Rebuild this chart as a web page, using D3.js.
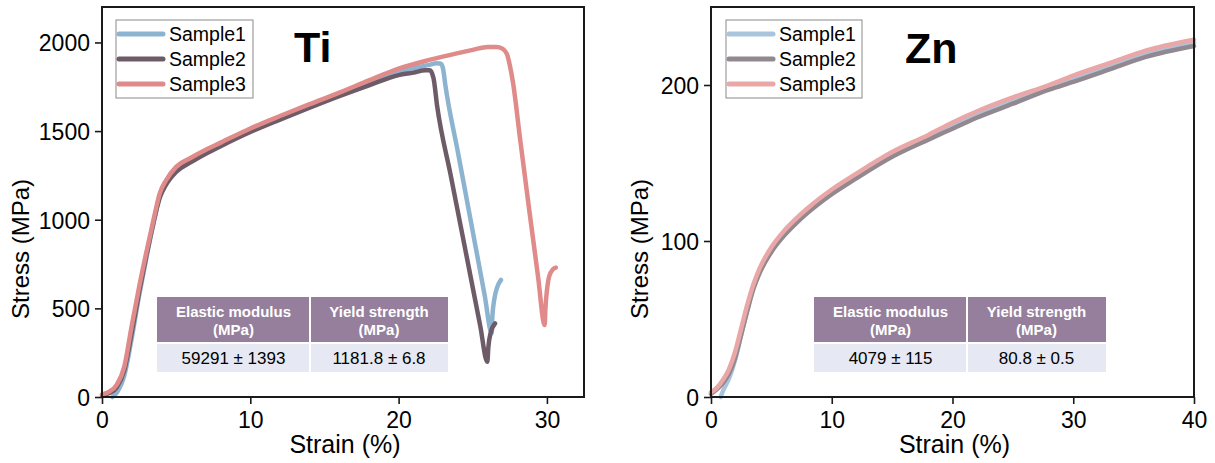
<!DOCTYPE html>
<html>
<head>
<meta charset="utf-8">
<script src="https://cdn.jsdelivr.net/npm/d3@7"></script>
<style>
  html, body { margin: 0; padding: 0; background: #fff; }
  svg { display: block; font-family: "Liberation Sans", Arial, sans-serif; }
</style>
</head>
<body>
<svg id="chart" width="1215" height="463"></svg>
<script>
// ---------------- DATA ----------------
const seriesNames = ["Sample1", "Sample2", "Sample3"];

// Ti stress-strain: [strain %, stress MPa]
const tiSample1 = [[0.7,0],[1,25],[1.5,120],[2,330],[2.5,570],[3,790],[3.5,990],[3.9,1140],[4.3,1210],[5,1285],[6,1340],[7,1385],[8,1428],[10,1508],[12,1578],[14,1645],[16,1708],[18,1773],[20,1835],[21,1855],[22,1872],[22.6,1882],[22.85,1880],[23.0,1850],[23.15,1760],[24,1380],[25,933],[25.8,575],[26.28,359],[26.32,450],[26.45,550],[26.65,620],[26.9,660]];
const tiSample2 = [[0,10],[0.5,22],[1,55],[1.5,150],[2,360],[2.5,590],[3,800],[3.5,995],[3.9,1125],[4.3,1195],[5,1270],[6,1325],[7,1372],[8,1415],[10,1495],[12,1565],[14,1632],[16,1697],[18,1758],[20,1816],[21,1830],[21.8,1843],[22.1,1843],[22.35,1800],[22.6,1640],[23.5,1256],[24.5,830],[25.5,403],[25.98,199],[26.05,280],[26.2,360],[26.5,415]];
const tiSample3 = [[0,15],[0.5,30],[1,70],[1.5,170],[2,400],[2.5,620],[3,820],[3.5,1010],[3.9,1150],[4.3,1220],[5,1298],[6,1350],[7,1395],[8,1435],[10,1515],[12,1585],[14,1652],[16,1717],[18,1786],[20,1852],[22,1900],[24,1940],[25,1958],[26,1975],[26.6,1975],[27.0,1965],[27.3,1935],[27.5,1870],[27.7,1780],[28.2,1450],[28.8,1060],[29.4,680],[29.85,406],[29.9,500],[30.0,600],[30.15,680],[30.4,720],[30.6,730]];

// Zn stress-strain
const znSample1 = [[0.8,0],[1,4],[1.5,12],[2,24],[2.5,40],[3,56],[3.5,70],[4,81],[5,95],[6,105],[7,113],[8,120],[10,132],[12,142],[15,156],[18,167],[20,174],[22,181],[25,190],[28,199],[30,204],[33,212],[36,220],[40,227]];
const znSample2 = [[0,2],[0.5,5],[1,9],[1.5,15],[2,25],[2.5,40],[3,55],[3.5,69],[4,79],[5,93],[6,103],[7,111],[8,118],[10,130],[12,140],[15,154],[18,165],[20,172],[22,179],[25,188],[28,197],[30,202],[33,210],[36,218],[40,225]];
const znSample3 = [[0,3],[0.5,6],[1,11],[1.5,18],[2,29],[2.5,44],[3,59],[3.5,72],[4,82],[5,96],[6,106],[7,114],[8,121],[10,133],[12,143],[15,157],[18,168],[20,176],[22,183],[25,192],[28,200],[30,206],[33,214],[36,222],[40,229]];

const tiXTicks = [0, 10, 20, 30];
const tiYTicks = [0, 500, 1000, 1500, 2000];
const znXTicks = [0, 10, 20, 30, 40];
const znYTicks = [0, 100, 200];

const tableHeaders = ["Elastic modulus", "Yield strength"];
const tableUnit = "(MPa)";
const tiTableValues = ["59291 \u00B1 1393", "1181.8 \u00B1 6.8"];
const znTableValues = ["4079 \u00B1 115", "80.8 \u00B1 0.5"];

// ---------------- STYLE / LAYOUT ----------------
const tiColors = ["#8cb3d0", "#6d5c68", "#e08a8a"];
const znColors = ["#a9c5de", "#918890", "#e9a7a7"];
const fontFam = '"Liberation Sans", Arial, sans-serif';

const panels = [
  {
    title: "Ti", data: [tiSample1, tiSample2, tiSample3], colors: tiColors,
    xDomain: [0, 32.5], yDomain: [0, 2200], xTicks: tiXTicks, yTicks: tiYTicks,
    left: 102, right: 584, top: 7, bottom: 397,
    legend: { x: 116, y: 20, w: 137, h: 78 },
    titlePos: { x: 294, y: 62 },
    table: { x: 157, y: 297, w1: 153, w2: 138, h1: 46, h2: 29, values: tiTableValues },
    yLabelX: 21
  },
  {
    title: "Zn", data: [znSample1, znSample2, znSample3], colors: znColors,
    xDomain: [0, 40], yDomain: [0, 250], xTicks: znXTicks, yTicks: znYTicks,
    left: 711, right: 1194, top: 7, bottom: 397,
    legend: { x: 726, y: 20, w: 136, h: 78 },
    titlePos: { x: 905, y: 63 },
    table: { x: 814, y: 297, w1: 153, w2: 139, h1: 46, h2: 29, values: znTableValues },
    yLabelX: 640
  }
];

const svg = d3.select("#chart");

panels.forEach(p => {
  const x = d3.scaleLinear().domain(p.xDomain).range([p.left, p.right]);
  const y = d3.scaleLinear().domain(p.yDomain).range([p.bottom, p.top]);
  const g = svg.append("g");

  // table (drawn under curves)
  const t = p.table;
  const tg = g.append("g");
  const colX = [t.x, t.x + t.w1];
  const colW = [t.w1, t.w2];
  [0, 1].forEach(i => {
    tg.append("rect").attr("x", colX[i]).attr("y", t.y).attr("width", colW[i]).attr("height", t.h1)
      .attr("fill", "#957f9c");
    tg.append("rect").attr("x", colX[i]).attr("y", t.y + t.h1).attr("width", colW[i]).attr("height", t.h2)
      .attr("fill", "#e6e8f3");
    const cx = colX[i] + colW[i] / 2;
    tg.append("text").attr("x", cx).attr("y", t.y + 20).attr("text-anchor", "middle")
      .attr("font-family", fontFam).attr("font-size", 15).attr("font-weight", "bold").attr("fill", "#fff")
      .text(tableHeaders[i]);
    tg.append("text").attr("x", cx).attr("y", t.y + 38).attr("text-anchor", "middle")
      .attr("font-family", fontFam).attr("font-size", 15).attr("font-weight", "bold").attr("fill", "#fff")
      .text(tableUnit);
    tg.append("text").attr("x", cx).attr("y", t.y + t.h1 + 21).attr("text-anchor", "middle")
      .attr("font-family", fontFam).attr("font-size", 17).attr("fill", "#000")
      .text(t.values[i]);
  });
  tg.append("line").attr("x1", t.x + t.w1).attr("x2", t.x + t.w1).attr("y1", t.y).attr("y2", t.y + t.h1 + t.h2)
    .attr("stroke", "#fff").attr("stroke-width", 2);
  tg.append("line").attr("x1", t.x).attr("x2", t.x + t.w1 + t.w2).attr("y1", t.y + t.h1).attr("y2", t.y + t.h1)
    .attr("stroke", "#fff").attr("stroke-width", 2);

  // curves
  const line = d3.line().x(d => x(d[0])).y(d => y(d[1])).curve(d3.curveMonotoneX);
  const cg = g.append("g");
  p.data.forEach((ser, i) => {
    cg.append("path").datum(ser).attr("d", line)
      .attr("fill", "none").attr("stroke", p.colors[i]).attr("stroke-width", 4.5)
      .attr("stroke-linejoin", "round").attr("stroke-linecap", "round");
  });

  // frame
  g.append("rect").attr("x", p.left).attr("y", p.top).attr("width", p.right - p.left).attr("height", p.bottom - p.top)
    .attr("fill", "none").attr("stroke", "#1a1a1a").attr("stroke-width", 2);

  // axes
  const xAxis = d3.axisBottom(x).tickValues(p.xTicks).tickSize(7).tickPadding(4).tickFormat(d3.format("d"));
  const yAxis = d3.axisLeft(y).tickValues(p.yTicks).tickSize(7).tickPadding(5).tickFormat(d3.format("d"));
  const gx = g.append("g").attr("transform", `translate(0,${p.bottom})`).call(xAxis);
  const gy = g.append("g").attr("transform", `translate(${p.left},0)`).call(yAxis);
  [gx, gy].forEach(a => {
    a.select(".domain").remove();
    a.selectAll(".tick line").attr("stroke", "#1a1a1a").attr("stroke-width", 1.6);
    a.selectAll(".tick text").attr("font-family", fontFam).attr("font-size", 23).attr("fill", "#000");
  });
  gx.selectAll(".tick text").attr("dy", "0.85em");
  gy.selectAll(".tick text").attr("dy", "0.36em");

  // axis titles
  g.append("text").attr("x", (p.left + p.right) / 2 + 2).attr("y", 453).attr("text-anchor", "middle")
    .attr("font-family", fontFam).attr("font-size", 25).attr("fill", "#000").text("Strain (%)");
  g.append("text").attr("transform", `translate(${p.yLabelX},${(p.top + p.bottom) / 2 + 47}) rotate(-90)`)
    .attr("text-anchor", "middle").attr("dy", "0.35em")
    .attr("font-family", fontFam).attr("font-size", 24).attr("fill", "#000").text("Stress (MPa)");

  // title
  g.append("text").attr("x", p.titlePos.x).attr("y", p.titlePos.y)
    .attr("font-family", fontFam).attr("font-size", 43).attr("font-weight", "bold").attr("fill", "#000")
    .text(p.title);

  // legend
  const L = p.legend;
  const lg = g.append("g");
  lg.append("rect").attr("x", L.x).attr("y", L.y).attr("width", L.w).attr("height", L.h)
    .attr("fill", "#fff").attr("stroke", "#8a8a8a").attr("stroke-width", 1);
  seriesNames.forEach((name, i) => {
    const cy = L.y + 14 + i * 25;
    lg.append("line").attr("x1", L.x + 3).attr("x2", L.x + 47).attr("y1", cy).attr("y2", cy)
      .attr("stroke", p.colors[i]).attr("stroke-width", 5).attr("stroke-linecap", "round");
    lg.append("text").attr("x", L.x + 53).attr("y", cy).attr("dy", "0.36em")
      .attr("font-family", fontFam).attr("font-size", 19.5).attr("fill", "#000").text(name);
  });
});
</script>
</body>
</html>
